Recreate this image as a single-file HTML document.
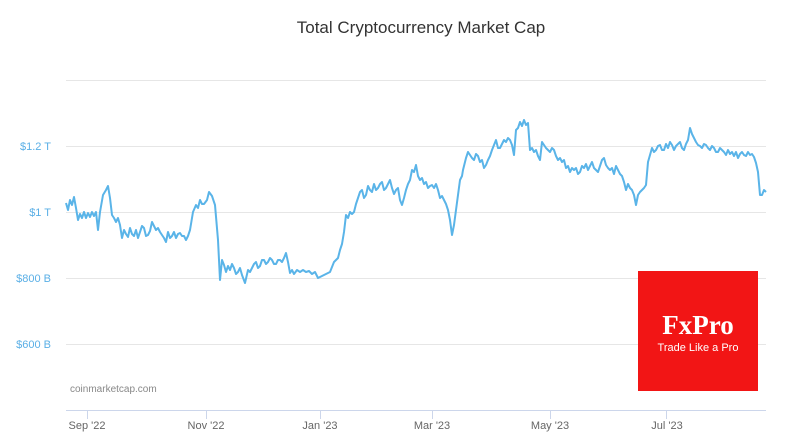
<!DOCTYPE html>
<html><head><style>
body{margin:0;background:#fff;}
svg{display:block;font-family:"Liberation Sans",sans-serif;}
</style></head><body>
<svg width="800" height="441" viewBox="0 0 800 441">
<rect width="800" height="441" fill="#fff"/>
<text x="421" y="33" text-anchor="middle" font-size="17" fill="#333">Total Cryptocurrency Market Cap</text>
<g stroke="#e6e6e6" stroke-width="1">
<line x1="66" y1="80.5" x2="766" y2="80.5"/>
<line x1="66" y1="146.5" x2="766" y2="146.5"/>
<line x1="66" y1="212.5" x2="766" y2="212.5"/>
<line x1="66" y1="278.5" x2="766" y2="278.5"/>
<line x1="66" y1="344.5" x2="766" y2="344.5"/>
</g>
<g fill="#5aafe6" font-size="11" text-anchor="end">
<text x="51" y="150">$1.2 T</text>
<text x="51" y="216">$1 T</text>
<text x="51" y="282">$800 B</text>
<text x="51" y="348">$600 B</text>
</g>
<line x1="66" y1="410.5" x2="766" y2="410.5" stroke="#ccd6eb"/>
<g stroke="#ccd6eb">
<line x1="87.5" y1="410" x2="87.5" y2="419"/>
<line x1="206.5" y1="410" x2="206.5" y2="419"/>
<line x1="320.5" y1="410" x2="320.5" y2="419"/>
<line x1="432.5" y1="410" x2="432.5" y2="419"/>
<line x1="550.5" y1="410" x2="550.5" y2="419"/>
<line x1="666.5" y1="410" x2="666.5" y2="419"/>
</g>
<g fill="#666" font-size="11" text-anchor="middle">
<text x="87" y="429">Sep '22</text>
<text x="206" y="429">Nov '22</text>
<text x="320" y="429">Jan '23</text>
<text x="432" y="429">Mar '23</text>
<text x="550" y="429">May '23</text>
<text x="667" y="429">Jul '23</text>
</g>
<text x="70" y="392" font-size="10" fill="#888">coinmarketcap.com</text>
<polyline fill="none" stroke="#5ab4e8" stroke-width="2" stroke-linejoin="round" points="66,203 68,210 70,200 72,205 74,197 76,208 78,220 80,214 82,218 84,212 86,218 88,213 90,217 92,212 94,216 96,212 98,230 100,212 103,195 106,190 108,186 110,198 112,215 114,218 116,222 118,218 120,225 122,238 124,230 126,234 128,237 130,228 132,234 134,236 136,230 138,238 140,232 142,226 144,228 146,236 148,235 150,231 152,222 154,226 156,230 158,228 160,232 162,235 164,238 166,242 168,232 170,238 172,236 174,232 176,238 178,234 180,233 182,236 184,236 186,240 188,236 190,230 193,212 196,205 198,208 200,200 202,204 204,204 207,200 209,192 212,196 215,205 218,240 220,280 222,260 224,265 226,272 228,266 230,270 232,264 234,268 236,274 238,272 240,268 242,275 245,283 248,270 250,272 252,268 254,264 256,262 258,268 260,266 262,260 264,260 266,264 268,262 270,258 272,260 274,264 276,264 278,260 280,260 282,262 284,258 286,253 288,262 290,273 292,270 294,274 297,270 300,272 303,270 306,272 309,271 312,274 315,272 318,278 322,276 326,274 330,272 334,262 338,258 340,250 342,244 344,232 346,215 348,218 350,212 352,214 354,212 356,204 358,198 360,192 362,190 364,198 366,195 368,186 370,190 372,192 374,184 376,190 378,188 380,184 382,182 384,190 386,188 388,184 390,180 392,188 394,194 396,190 398,188 400,200 402,205 404,198 406,190 408,184 410,180 412,170 414,172 416,165 418,176 420,180 422,178 424,184 426,182 428,188 430,186 432,185 434,188 436,184 438,190 440,198 442,196 444,200 446,204 448,210 450,220 452,235 454,225 456,210 458,195 460,180 462,176 463,170 465,162 466,158 468,152 470,155 472,158 474,160 476,154 478,156 480,162 482,160 484,168 486,165 488,160 490,156 492,150 494,145 496,140 498,148 500,148 502,144 504,140 506,142 508,138 510,140 512,145 514,155 516,130 518,128 520,122 522,126 524,120 526,125 528,123 530,150 532,148 534,152 536,150 538,156 540,160 542,142 544,145 546,148 548,150 550,152 552,148 554,150 556,156 558,160 560,158 562,162 564,160 566,168 568,166 570,172 572,168 574,170 576,168 578,174 580,172 582,166 584,168 586,164 588,170 590,166 592,162 594,168 596,170 598,172 600,166 602,160 604,158 606,165 608,168 610,170 612,168 614,174 616,166 618,170 620,174 622,176 624,182 626,190 628,184 630,188 632,190 634,195 636,205 638,195 640,192 642,190 644,188 646,185 648,162 650,155 652,148 654,152 656,150 658,146 660,145 662,150 664,150 666,144 668,148 670,142 672,145 674,150 676,146 678,144 680,142 682,148 684,150 686,144 688,140 690,128 692,134 694,138 696,142 698,145 700,146 702,148 704,144 706,145 708,148 710,150 712,146 714,148 716,152 718,152 720,148 722,150 724,152 726,155 728,150 730,154 732,152 734,156 736,152 738,158 740,154 742,152 744,155 746,156 748,152 750,155 752,154 754,157 756,163 758,172 760,195 762,195 764,190 766,192"/>
<rect x="638" y="271" width="120" height="120" fill="#f21515"/>
<text x="698" y="334" text-anchor="middle" font-family="Liberation Serif,serif" font-weight="bold" font-size="27" fill="#fff">FxPro</text>
<text x="698" y="351" text-anchor="middle" font-size="11" fill="#fff">Trade Like a Pro</text>
</svg>
</body></html>
